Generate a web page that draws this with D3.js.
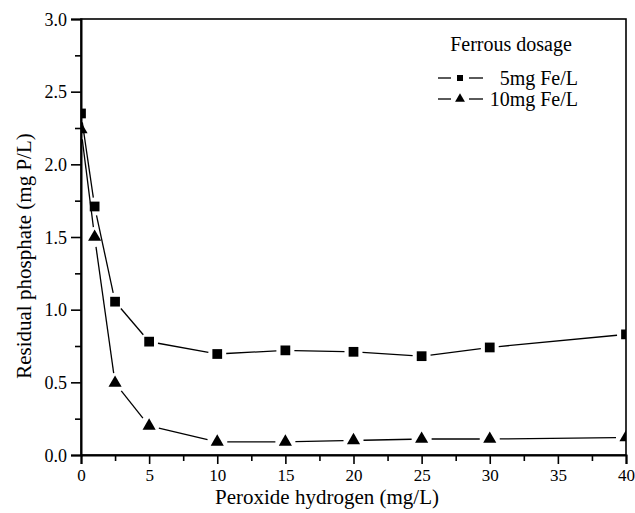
<!DOCTYPE html>
<html>
<head>
<meta charset="utf-8">
<script src="https://cdn.jsdelivr.net/npm/d3@7"></script>
<style>
body { margin: 0; background: #fff; }
text { font-family: "Liberation Serif", "DejaVu Serif", serif; }
</style>
</head>
<body>
<div id="chart"></div>
<script>
// data
var peroxide = [0, 1, 2.5, 5, 10, 15, 20, 25, 30, 40];
var fe5 = [2.35, 1.71, 1.055, 0.78, 0.695, 0.72, 0.71, 0.68, 0.74, 0.83];
var fe10 = [2.24, 1.50, 0.495, 0.20, 0.09, 0.09, 0.10, 0.11, 0.11, 0.12];
var xTicks = [0, 5, 10, 15, 20, 25, 30, 35, 40];
var yTicks = [0.0, 0.5, 1.0, 1.5, 2.0, 2.5, 3.0];
var legendTitle = "Ferrous dosage";
var seriesNames = ["5mg Fe/L", "10mg Fe/L"];

var W = 635, H = 513;
var m = {left: 81, top: 19, right: 9, bottom: 58};
var pw = W - m.left - m.right, ph = H - m.top - m.bottom;
var serif = "'Liberation Serif', 'DejaVu Serif', serif";

var svg = d3.select("#chart").append("svg")
  .attr("width", W).attr("height", H)
  .attr("font-family", serif);

var x = d3.scaleLinear().domain([0, 40]).range([0, pw]);
var y = d3.scaleLinear().domain([0, 3]).range([ph, 0]);

var g = svg.append("g").attr("transform", "translate(" + m.left + "," + m.top + ")");

svg.append("defs").append("clipPath").attr("id", "clip")
  .append("rect").attr("x", 0).attr("y", 0).attr("width", pw).attr("height", ph);

// frame
g.append("rect").attr("width", pw).attr("height", ph)
  .attr("fill", "none").attr("stroke", "#000").attr("stroke-width", 1.6);

// minor ticks
g.append("g").attr("transform", "translate(0," + ph + ")")
  .call(d3.axisBottom(x).tickValues(d3.range(2.5, 40, 5)).tickSize(6).tickFormat(""))
  .call(a => a.select(".domain").remove());
g.append("g")
  .call(d3.axisLeft(y).tickValues(d3.range(0.25, 3, 0.5)).tickSize(6).tickFormat(""))
  .call(a => a.select(".domain").remove());

// major ticks
var xa = g.append("g").attr("transform", "translate(0," + ph + ")")
  .call(d3.axisBottom(x).tickValues(xTicks).tickSize(9).tickPadding(5).tickFormat(d3.format("d")));
var ya = g.append("g")
  .call(d3.axisLeft(y).tickValues(yTicks).tickSize(10).tickPadding(4).tickFormat(d3.format(".1f")));
[xa, ya].forEach(function(a) {
  a.attr("font-family", serif).attr("font-size", 18);
  a.select(".domain").attr("stroke-width", 2);
  a.selectAll("text").attr("fill", "#000");
});
xa.attr("font-size", 17);
g.selectAll(".tick line").attr("stroke-width", 1.6);
ya.selectAll("text").attr("dy", "0.34em");

// series
var plot = g.append("g").attr("clip-path", "url(#clip)");

function drawSeries(vals, sym, size, gap) {
  var pts = peroxide.map((p, i) => [x(p), y(vals[i])]);
  var segs = [];
  for (var i = 0; i < pts.length - 1; i++) {
    var a = pts[i], b = pts[i + 1];
    var dx = b[0] - a[0], dy = b[1] - a[1], L = Math.sqrt(dx * dx + dy * dy);
    if (L <= 2 * gap) continue;
    var ux = dx / L, uy = dy / L;
    segs.push([a[0] + ux * gap, a[1] + uy * gap, b[0] - ux * gap, b[1] - uy * gap]);
  }
  plot.append("g").selectAll("line").data(segs).enter().append("line")
    .attr("x1", d => d[0]).attr("y1", d => d[1])
    .attr("x2", d => d[2]).attr("y2", d => d[3])
    .attr("stroke", "#000").attr("stroke-width", 1.3);
  plot.append("g").selectAll("path").data(pts).enter().append("path")
    .attr("d", d3.symbol().type(sym).size(size))
    .attr("transform", d => "translate(" + d[0] + "," + d[1] + ")")
    .attr("fill", "#000");
}
drawSeries(fe5, d3.symbolSquare, 95, 9);
drawSeries(fe10, d3.symbolTriangle, 75, 10);

// legend
var lg = svg.append("g").attr("font-size", 20).attr("fill", "#000");
lg.append("text").attr("x", 511).attr("y", 51).attr("text-anchor", "middle").text(legendTitle);
var rows = [{y: 78, sym: d3.symbolSquare, size: 36}, {y: 99, sym: d3.symbolTriangle, size: 42}];
rows.forEach(function(r, i) {
  lg.append("line").attr("x1", 438).attr("x2", 451).attr("y1", r.y).attr("y2", r.y)
    .attr("stroke", "#000").attr("stroke-width", 1.3);
  lg.append("line").attr("x1", 469).attr("x2", 483).attr("y1", r.y).attr("y2", r.y)
    .attr("stroke", "#000").attr("stroke-width", 1.3);
  lg.append("path").attr("d", d3.symbol().type(r.sym).size(r.size))
    .attr("transform", "translate(460," + r.y + ")");
  lg.append("text").attr("x", 578).attr("y", r.y + 7).attr("text-anchor", "end").text(seriesNames[i]);
});

// axis titles
svg.append("text").attr("x", 327).attr("y", 504).attr("text-anchor", "middle")
  .attr("font-size", 21).text("Peroxide hydrogen (mg/L)");
svg.append("text").attr("transform", "translate(31,256) rotate(-90)")
  .attr("text-anchor", "middle").attr("font-size", 21).text("Residual phosphate (mg P/L)");
</script>
</body>
</html>
